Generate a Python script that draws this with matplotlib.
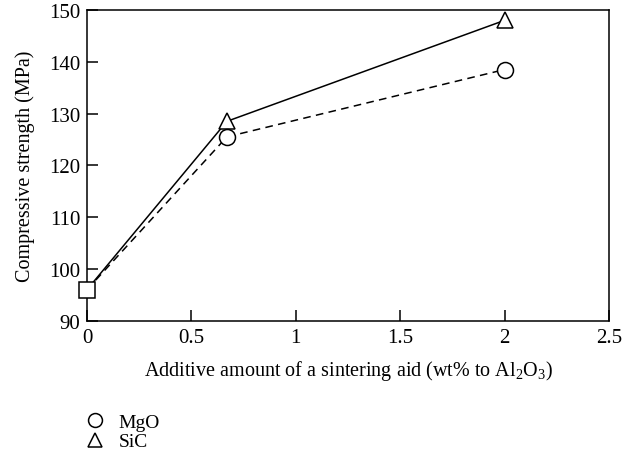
import matplotlib
matplotlib.use("Agg")
import matplotlib.pyplot as plt
from matplotlib.lines import Line2D

plt.rcParams['font.family'] = ['Liberation Serif', 'DejaVu Serif']
plt.rcParams['mathtext.fontset'] = 'custom'
plt.rcParams['mathtext.rm'] = 'Liberation Serif'

# data
additive = [0, 0.67, 2]
mgo = [96, 125.5, 138.5]
sic = [96, 128.5, 148]
base_x = [0]
base_y = [96]

xticks = [0, 0.5, 1, 1.5, 2, 2.5]
xticklabels = ['0', '0.5', '1', '1.5', '2', '2.5']
yticks = [90, 100, 110, 120, 130, 140, 150]

fig = plt.figure(figsize=(6.32, 4.56), dpi=100)
ax = fig.add_axes([0.1377, 0.2945, 0.8259, 0.6814])

ax.plot(additive, sic, '-', color='black', lw=1.1, zorder=2)
ax.plot(additive, mgo, '--', color='black', lw=1.1, dashes=(5, 3.5), zorder=2)
ax.plot(additive[1:], sic[1:], '^', ms=11, mfc='white', mec='black', mew=1.1, zorder=3)
ax.plot(additive[1:], mgo[1:], 'o', ms=11.5, mfc='white', mec='black', mew=1.1, zorder=3)
ax.plot(base_x, base_y, 's', ms=11, mfc='white', mec='black', mew=1.1, zorder=4,
        clip_on=False)

ax.set_xlim(0, 2.5)
ax.set_ylim(90, 150)
ax.set_xticks(xticks)
ax.set_xticklabels(xticklabels)
ax.set_yticks(yticks)
ax.tick_params(direction='in', length=8, width=1.1, labelsize=15, pad=5,
               top=False, right=False)
for s in ax.spines.values():
    s.set_linewidth(1.1)

ax.set_xlabel('Additive amount of a sintering aid (wt% to Al$_2$O$_3$)', fontsize=14.5,
              labelpad=8)
ax.set_ylabel('Compressive strength (MPa)', fontsize=14.5, labelpad=10)

handles = [
    Line2D([], [], ls='none', marker='o', ms=10, mfc='white', mec='black', mew=1.1),
    Line2D([], [], ls='none', marker='^', ms=10, mfc='white', mec='black', mew=1.1),
]
fig.legend(handles, ['MgO', 'SiC'], loc='upper left', bbox_to_anchor=(0.12, 0.113),
           frameon=False, fontsize=14, handlelength=1.0, handletextpad=0.7,
           labelspacing=0.1, borderpad=0)

fig.savefig('out.png', dpi=100)
